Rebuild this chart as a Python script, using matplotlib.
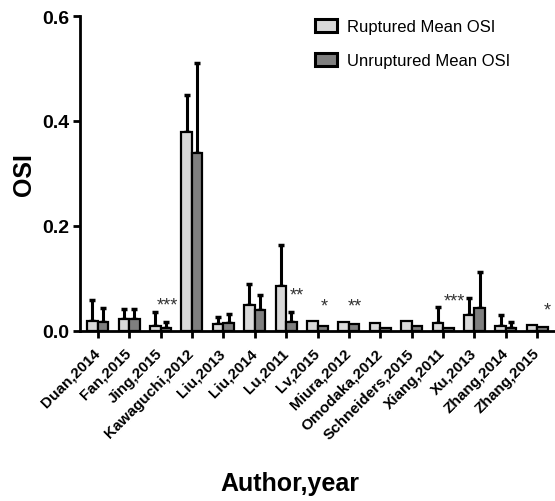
import numpy as np
import matplotlib
matplotlib.use('Agg')
from matplotlib import pyplot as plt
from matplotlib.patches import Patch

plt.rcParams['font.family'] = ['Liberation Sans', 'DejaVu Sans']

studies = ['Duan,2014', 'Fan,2015', 'Jing,2015', 'Kawaguchi,2012', 'Liu,2013',
           'Liu,2014', 'Lu,2011', 'Lv,2015', 'Miura,2012', 'Omodaka,2012',
           'Schneiders,2015', 'Xiang,2011', 'Xu,2013', 'Zhang,2014', 'Zhang,2015']

ruptured = [0.019, 0.022, 0.010, 0.380, 0.013, 0.050, 0.086, 0.020, 0.017, 0.015,
            0.020, 0.015, 0.030, 0.009, 0.011]
ruptured_sd = [0.040, 0.019, 0.026, 0.070, 0.013, 0.040, 0.077, 0.0, 0.0, 0.0,
               0.0, 0.030, 0.033, 0.022, 0.0]
unruptured = [0.017, 0.022, 0.005, 0.340, 0.015, 0.040, 0.017, 0.009, 0.013, 0.005,
              0.010, 0.005, 0.043, 0.005, 0.007]
unruptured_sd = [0.026, 0.019, 0.012, 0.170, 0.017, 0.029, 0.020, 0.0, 0.0, 0.0,
                 0.0, 0.0, 0.069, 0.012, 0.0]

# significance marks: study index, label, x offset, height
stars = [(2, '***', 0.22, 0.034), (6, '**', 0.35, 0.052), (7, '*', 0.22, 0.031),
         (8, '**', 0.20, 0.031), (11, '***', 0.35, 0.041), (14, '*', 0.32, 0.024)]

light = '#d9d9d9'
dark = '#7f7f7f'

fig = plt.figure(figsize=(5.55, 5.02), dpi=100)
ax = fig.add_axes([80/555, 1 - 332/502, 1 - 80/555, (332 - 17)/502])

x = np.arange(len(studies))
w = 0.335

def draw(xs, vals, sds, color):
	ax.bar(xs, vals, w, color=color, edgecolor='black', linewidth=1.6, zorder=3)
	sds = np.array(sds)
	keep = sds > 0
	ax.errorbar(xs[keep], np.array(vals)[keep], yerr=[np.zeros(keep.sum()), sds[keep]],
	            fmt='none', ecolor='black', elinewidth=2.2, capsize=2.3, capthick=2.5, zorder=2)

draw(x - w/2, ruptured, ruptured_sd, light)
draw(x + w/2, unruptured, unruptured_sd, dark)

for i, s, dx, h in stars:
	ax.text(i + dx, h, s, ha='center', va='bottom', fontsize=13, color='#333333')

ax.set_xlim(-0.565, len(studies) - 1 + 0.565)
ax.set_ylim(0, 0.6)
ax.set_yticks([0.0, 0.2, 0.4, 0.6])
ax.set_yticklabels(['0.0', '0.2', '0.4', '0.6'], fontsize=14, fontweight='bold')
ax.set_xticks(x)
ax.set_xticklabels(studies, rotation=45, ha='right', va='center', rotation_mode='anchor',
                   fontsize=11, fontweight='bold')
ax.tick_params(axis='both', direction='out', length=5, width=2, pad=3)
ax.tick_params(axis='x', pad=9)
for side in ['top', 'right']:
	ax.spines[side].set_visible(False)
for side in ['left', 'bottom']:
	ax.spines[side].set_linewidth(2)

handles = [Patch(facecolor=light, edgecolor='black', linewidth=2.2, label='Ruptured Mean OSI'),
           Patch(facecolor=dark, edgecolor='black', linewidth=2.2, label='Unruptured Mean OSI')]
fig.legend(handles=handles, loc='upper left', bbox_to_anchor=(300/555, 1 - 5/502),
           frameon=False, fontsize=12, handlelength=1.3, handleheight=0.85,
           handletextpad=0.6, labelspacing=1.1)

fig.text(24/555, 1 - 175/502, 'OSI', rotation=90, ha='center', va='center',
         fontsize=18, fontweight='bold')
fig.text(290/555, 1 - 484/502, 'Author,year', ha='center', va='center',
         fontsize=18, fontweight='bold')

fig.savefig('out.png', dpi=100)
